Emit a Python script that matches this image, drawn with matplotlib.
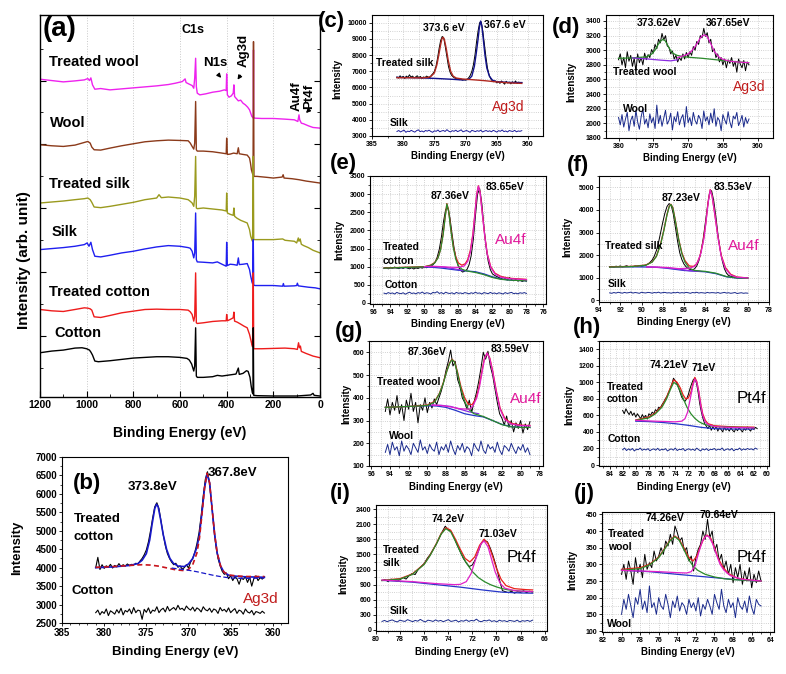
import numpy as np
import matplotlib
matplotlib.use("Agg")
import matplotlib.pyplot as plt
from matplotlib.ticker import MultipleLocator, NullFormatter

plt.rcParams['font.family'] = ['Liberation Sans', 'DejaVu Sans']
plt.rcParams['font.weight'] = 'bold'

W, H = 786, 674

# ---------------- (a) survey spectra: (binding energy, intensity arb.) ----------------
A_TREATED_WOOL = [(1200, 95.2), (1150, 94.8), (1100, 94.4), (1050, 94.7), (1010, 95.0), (995, 95.4), (988, 94.8),
    (982, 95.6), (975, 93.5), (965, 92.2), (940, 92.4), (900, 92.0), (850, 92.3), (800, 92.6), (750, 92.9),
    (700, 93.2), (650, 93.6), (620, 94.0), (590, 94.5), (578, 95.3), (574, 94.2), (560, 93.7), (548, 93.3),
    (541, 92.5), (537, 95.5), (533, 101.5), (530, 93.0), (526, 91.0), (515, 90.5), (490, 90.8), (460, 91.3),
    (430, 91.6), (410, 92.0), (402, 91.8), (400, 96.8), (397, 90.5), (390, 89.8), (380, 90.2), (372, 91.0),
    (369, 93.5), (366, 90.0), (360, 89.5), (350, 88.7), (340, 88.9), (330, 88.0), (320, 87.5), (310, 86.8),
    (302, 86.0), (297, 85.0), (292, 84.0), (289, 83.8), (286, 83.5), (285, 104.0), (284, 83.5), (280, 83.5),
    (250, 83.4), (200, 83.4), (150, 83.2), (110, 83.0), (95, 82.5), (90, 84.5), (87, 83.0), (80, 82.0),
    (70, 81.8), (50, 81.2), (30, 80.7), (0, 80.5)]
A_WOOL = [(1200, 75.5), (1150, 75.2), (1100, 75.0), (1050, 75.4), (1010, 76.2), (995, 76.5), (985, 76.0),
    (978, 74.8), (968, 74.0), (940, 73.9), (900, 74.5), (850, 75.2), (800, 75.8), (750, 76.4), (700, 76.7),
    (650, 76.9), (600, 76.8), (565, 76.7), (556, 76.0), (548, 75.0), (541, 74.2), (537, 76.0), (533, 88.5),
    (530, 74.0), (526, 73.6), (500, 73.6), (460, 73.4), (420, 73.0), (402, 72.8), (400, 77.5), (397, 72.6),
    (385, 72.7), (370, 73.0), (355, 72.8), (350, 74.6), (346, 72.8), (330, 72.6), (312, 72.4), (302, 71.5),
    (298, 70.0), (294, 68.0), (290, 67.0), (287, 66.5), (285, 106.5), (283, 66.0), (270, 66.0), (226, 65.7),
    (200, 65.5), (162, 65.8), (158, 66.5), (154, 65.5), (120, 65.3), (90, 65.0), (60, 64.6), (30, 64.3), (0, 64.0)]
A_TREATED_SILK = [(1200, 58.0), (1150, 58.3), (1100, 58.6), (1050, 59.0), (1010, 59.3), (995, 59.5), (985, 59.0),
    (978, 58.2), (968, 56.8), (940, 56.6), (900, 57.0), (850, 57.6), (800, 58.2), (750, 59.0), (700, 59.5),
    (690, 60.5), (680, 59.6), (650, 59.8), (600, 59.5), (565, 59.0), (556, 58.5), (548, 58.0), (541, 57.0),
    (537, 60.0), (533, 72.0), (530, 56.5), (526, 56.3), (500, 56.5), (460, 56.2), (420, 55.9), (402, 55.6),
    (400, 61.0), (397, 55.0), (385, 54.6), (372, 54.3), (369, 56.5), (366, 54.0), (355, 53.4), (340, 52.8),
    (326, 52.4), (312, 52.0), (302, 50.0), (297, 48.0), (292, 47.0), (289, 46.5), (286, 72.0), (284, 47.0),
    (278, 47.0), (250, 47.0), (200, 47.0), (160, 47.2), (150, 46.8), (110, 46.5), (100, 46.0), (93, 47.5),
    (90, 46.5), (85, 47.2), (80, 45.6), (70, 45.2), (50, 44.6), (30, 43.8), (0, 43.0)]
A_SILK = [(1200, 44.0), (1150, 44.3), (1100, 44.6), (1050, 45.0), (1010, 45.5), (998, 46.0), (990, 45.0),
    (982, 46.2), (975, 44.0), (965, 42.0), (940, 41.8), (900, 42.3), (850, 43.0), (800, 43.5), (750, 44.2),
    (700, 44.8), (650, 45.2), (600, 45.0), (565, 44.6), (556, 44.4), (548, 43.5), (541, 41.5), (537, 43.0),
    (533, 55.0), (530, 41.0), (526, 40.3), (500, 40.2), (460, 40.0), (440, 40.3), (420, 39.6), (402, 39.0),
    (400, 46.2), (397, 39.2), (385, 39.6), (370, 39.5), (355, 39.3), (350, 41.5), (346, 39.5), (330, 39.6),
    (312, 39.8), (302, 38.0), (297, 36.0), (292, 34.5), (289, 33.8), (286, 47.0), (284, 33.3), (278, 33.2),
    (250, 33.2), (200, 33.2), (160, 33.0), (157, 33.8), (154, 33.0), (110, 33.1), (100, 33.2), (97, 33.9),
    (93, 33.1), (50, 32.7), (20, 32.5), (0, 32.2)]
A_TREATED_COTTON = [(1200, 26.0), (1150, 25.6), (1100, 25.4), (1050, 26.0), (1010, 26.5), (995, 26.4),
    (985, 26.2), (978, 25.8), (968, 23.8), (940, 23.6), (900, 24.2), (850, 25.0), (800, 25.5), (750, 26.0),
    (700, 26.1), (650, 26.0), (600, 26.0), (565, 25.8), (556, 25.3), (548, 24.5), (541, 22.5), (537, 24.0),
    (533, 37.0), (530, 22.0), (526, 21.8), (500, 22.0), (460, 22.4), (420, 22.6), (402, 22.6), (400, 24.5),
    (397, 22.6), (385, 23.0), (372, 23.5), (369, 25.2), (366, 22.5), (355, 22.2), (340, 21.6), (326, 21.0),
    (312, 20.5), (302, 18.5), (297, 17.0), (292, 15.5), (289, 14.8), (286, 37.0), (284, 14.2), (278, 14.2),
    (250, 14.2), (200, 14.3), (150, 14.4), (110, 14.2), (97, 14.0), (92, 16.0), (88, 14.5), (84, 15.0),
    (80, 13.4), (60, 12.8), (30, 12.0), (0, 11.5)]
A_COTTON = [(1200, 13.0), (1150, 13.5), (1100, 13.8), (1050, 14.4), (1020, 14.5), (1000, 14.2), (988, 13.8),
    (982, 13.2), (975, 12.3), (965, 10.5), (950, 10.3), (900, 10.6), (850, 11.0), (800, 11.4), (750, 11.6),
    (700, 11.8), (650, 11.8), (600, 11.6), (570, 11.3), (560, 10.8), (550, 9.6), (541, 7.5), (537, 9.0),
    (533, 20.5), (530, 6.0), (526, 5.6), (500, 5.6), (460, 5.8), (440, 6.2), (420, 6.0), (400, 6.2),
    (380, 6.4), (360, 6.6), (350, 8.4), (346, 6.5), (330, 6.8), (315, 7.6), (308, 7.4), (300, 5.6),
    (295, 3.0), (290, 1.0), (287, 0.6), (286, 20.5), (284, 0.2), (270, 0.1), (200, 0.0), (100, 0.0),
    (40, 0.3), (30, 0.8), (25, 0.2), (0, 0.0)]
A_NAMES = ["Treated wool", "Wool", "Treated silk", "Silk", "Treated cotton", "Cotton"]

# ---------------- (b) Ag3d, treated cotton ----------------
B_RANGE = (381, 361)
B_TREATED = [4000, 4280, 3950, 4080, 3980, 4050, 4010, 4090, 3990, 4060, 4020, 4110, 4030, 4080, 4040, 4100,
    4060, 4090, 4070, 4120, 4100, 4180, 4250, 4350, 4480, 4700, 5000, 5350, 5650, 5760, 5600, 5250, 4900,
    4600, 4380, 4250, 4150, 4080, 4120, 4010, 4050, 3960, 4000, 4080, 3990, 4150, 4250, 4420, 4650, 4950,
    5400, 5950, 6400, 6600, 6300, 5700, 5100, 4600, 4250, 4050, 3900, 3820, 3850, 3700, 3780, 3650, 3760,
    3700, 3550, 3720, 3680, 3760, 3600, 3740, 3500, 3700, 3780, 3650, 3730, 3690, 3750]
B_COTTON = [2780, 2850, 2720, 2810, 2760, 2880, 2700, 2830, 2790, 2740, 2860, 2770, 2900, 2720, 2840, 2800,
    2880, 2750, 2920, 2780, 2850, 2830, 2600, 2870, 2790, 2910, 2760, 2850, 2820, 2940, 2780, 2860, 2900,
    2800, 2950, 2830, 2880, 2920, 2850, 2980, 2870, 2900, 2840, 2960, 2890, 2850, 2930, 2820, 2910, 2870,
    2800, 2940, 2860, 2830, 2900, 2790, 2880, 2850, 2760, 2920, 2830, 2870, 2800, 2910, 2780, 2840, 2890,
    2760, 2850, 2820, 2740, 2880, 2800, 2770, 2840, 2720, 2810, 2790, 2760, 2820, 2770]
B_ENVELOPE = [(381, 4000), (379, 4020), (377, 4060), (376, 4110), (375.5, 4200), (375, 4380), (374.6, 4750),
    (374.3, 5200), (374, 5600), (373.8, 5720), (373.6, 5650), (373.3, 5300), (373, 4900), (372.6, 4500),
    (372.2, 4250), (371.8, 4120), (371.2, 4040), (370.5, 4030), (370, 4100), (369.5, 4250), (369, 4550),
    (368.7, 4900), (368.4, 5500), (368.1, 6150), (367.8, 6550), (367.5, 6300), (367.2, 5600), (366.9, 4900),
    (366.6, 4400), (366.2, 4050), (365.8, 3880), (365.2, 3790), (364, 3760), (363, 3750), (361, 3740)]
B_RED_DASH = [(381, 4010), (379, 4030), (377, 4060), (375.5, 4080), (374.5, 4070), (373.5, 4040), (372.5, 3990),
    (371.5, 3940), (370.5, 3920), (370, 3950), (369.5, 4080), (369, 4400), (368.7, 4800), (368.4, 5450),
    (368.1, 6150), (367.8, 6560), (367.5, 6300), (367.2, 5600), (366.9, 4900), (366.6, 4400), (366.2, 4050),
    (365.8, 3880), (365.2, 3800), (364, 3770), (363, 3760), (361, 3760)]
B_BLUE_DASH = [(372, 3990), (371, 3960), (370, 3930), (369, 3890), (368, 3840), (367, 3790), (366, 3750),
    (365, 3720), (364, 3710), (363, 3710), (361, 3720)]

# ---------------- (c) Ag3d, treated silk ----------------
C_RANGE = (381, 361)
C_TREATED = [6650, 6580, 6720, 6600, 6690, 6550, 6700, 6620, 6780, 6640, 6700, 6590, 6650, 6720, 6600, 6680,
    6560, 6650, 6610, 6700, 6640, 6600, 6750, 6850, 7000, 7300, 7800, 8400, 8900, 9150, 9050, 8500, 7900,
    7300, 6950, 6750, 6650, 6580, 6550, 6500, 6480, 6520, 6450, 6480, 6450, 6500, 6600, 6750, 7000, 7400,
    8000, 8800, 9500, 10000, 10050, 9500, 8700, 7900, 7200, 6800, 6550, 6420, 6350, 6400, 6280, 6360, 6250,
    6400, 6300, 6200, 6380, 6270, 6330, 6220, 6350, 6260, 6400, 6240, 6330, 6280, 6300]
C_SILK = [3280, 3340, 3250, 3310, 3360, 3230, 3300, 3270, 3350, 3290, 3240, 3330, 3380, 3270, 3310, 3250, 3340,
    3300, 3360, 3280, 3230, 3320, 3290, 3370, 3260, 3310, 3340, 3280, 3390, 3300, 3250, 3330, 3290, 3360,
    3270, 3320, 3380, 3260, 3300, 3340, 3290, 3230, 3350, 3310, 3270, 3330, 3290, 3360, 3250, 3300, 3340,
    3280, 3320, 3260, 3350, 3300, 3240, 3330, 3290, 3370, 3270, 3310, 3250, 3340, 3300, 3280, 3350, 3260,
    3310, 3290, 3330]
C_RED = [(381, 6600), (379, 6600), (377, 6590), (376, 6620), (375.5, 6700), (375, 6900), (374.6, 7400),
    (374.3, 8000), (374, 8650), (373.8, 9000), (373.6, 9100), (373.4, 8950), (373.1, 8400), (372.8, 7700),
    (372.4, 7000), (372, 6700), (371.5, 6580), (370.5, 6520), (369, 6480), (367, 6420), (365, 6340),
    (363, 6280), (361, 6250)]
C_BLUE = [(381, 6620), (378, 6600), (375, 6560), (372, 6500), (370.5, 6460), (369.5, 6500), (369, 6700),
    (368.6, 7300), (368.3, 8100), (368, 9000), (367.8, 9700), (367.6, 10100), (367.4, 9800), (367.2, 9100),
    (366.9, 8000), (366.6, 7200), (366.2, 6700), (365.7, 6450), (365, 6350), (363, 6310), (361, 6300)]

# ---------------- (d) Ag3d, treated wool ----------------
D_RANGE = (380, 361.25)
D_TREATED = [2870, 2950, 2800, 2900, 2760, 2980, 2850, 2930, 2780, 2890, 2720, 2950, 2830, 2900, 2800, 2960,
    2870, 2940, 2900, 3010, 2960, 3080, 3020, 3150, 3100, 3230, 3140, 3200, 3060, 3040, 2950, 2990, 2880,
    2930, 2840, 2900, 2860, 2950, 2880, 2970, 2900, 2980, 2930, 3050, 3000, 3120, 3080, 3200, 3170, 3300,
    3190, 3240, 3100, 3150, 2980, 3020, 2900, 2950, 2840, 2900, 2800, 2880, 2760, 2870, 2820, 2900, 2780,
    2850, 2700, 2880, 2810, 2760, 2860, 2720, 2840, 2800]
D_WOOL = [2080, 1980, 2120, 1950, 2060, 2150, 1900, 2040, 2100, 1960, 2180, 2020, 1920, 2090, 2200, 1990, 2060,
    1940, 2130, 2010, 2080, 1930, 2250, 2000, 2110, 1960, 2070, 2180, 1990, 2040, 2140, 1910, 2090, 2020,
    2160, 1980, 2070, 2120, 1950, 2230, 2010, 2080, 1970, 2150, 2040, 1990, 2110, 2060, 1930, 2170, 2030,
    2090, 1980, 2140, 2010, 2200, 1960, 2080, 2040, 1900, 2120, 2050, 1990, 2160, 2020, 1940, 2100, 2060,
    2150, 1970, 2030, 2110, 1950, 2080, 2000, 2060]
D_GREEN = [(380, 2890), (378, 2895), (376, 2910), (375.2, 2950), (374.7, 3010), (374.3, 3080), (374, 3120),
    (373.62, 3150), (373.3, 3130), (373, 3080), (372.6, 3010), (372.2, 2960), (371.6, 2930), (370.8, 2915),
    (370, 2905), (368, 2890), (366, 2870), (364, 2850), (362, 2835), (361.3, 2830)]
D_VIOLET = [(378, 2895), (376, 2882), (374, 2865), (372.5, 2855), (371.5, 2870)]
D_MAGENTA = [(371.5, 2900), (370.5, 2930), (370, 2950), (369.5, 2990), (369, 3050), (368.6, 3110), (368.3, 3160),
    (368, 3195), (367.65, 3210), (367.3, 3190), (367, 3140), (366.6, 3060), (366.2, 2980), (365.6, 2910),
    (365, 2875), (364, 2850), (363, 2840), (361.3, 2830)]

# ---------------- (e) Au4f, treated cotton ----------------
E_RANGE = (94.75, 78)
E_TREATED = [950, 980, 940, 970, 955, 990, 960, 945, 975, 950, 985, 960, 940, 970, 935, 965, 950, 975, 960, 985,
    970, 1000, 1010, 1050, 1120, 1260, 1480, 1820, 2250, 2580, 2620, 2350, 1900, 1500, 1200, 1000, 900, 850,
    880, 920, 1050, 1300, 1750, 2400, 3000, 3150, 2750, 2100, 1550, 1150, 920, 800, 760, 730, 700, 680, 650,
    670, 630, 700, 640, 610, 650, 600, 630, 590, 620, 600]
E_COTTON = [270, 250, 285, 260, 275, 245, 290, 265, 255, 280, 240, 270, 295, 260, 275, 250, 285, 265, 300, 255,
    280, 270, 245, 290, 275, 310, 260, 285, 250, 295, 270, 260, 280, 245, 290, 265, 275, 255, 285, 270, 250,
    280, 260, 295, 265, 275, 245, 285, 270, 255, 290, 260, 275, 250, 280, 265, 245, 285, 260, 275, 290, 255,
    270, 250, 280, 265, 285, 260]
E_RED = [(94.75, 965), (92, 985), (90, 1000), (89.3, 1040), (88.8, 1110), (88.4, 1250), (88.1, 1480), (87.8, 1900),
    (87.55, 2400), (87.36, 2740), (87.15, 2550), (86.9, 2050), (86.6, 1560), (86.3, 1260), (86, 1100),
    (85.6, 1040), (85.2, 1080), (84.9, 1200), (84.6, 1450), (84.3, 1900), (84.05, 2500), (83.85, 3000),
    (83.65, 3230), (83.45, 3050), (83.2, 2500), (82.9, 1850), (82.6, 1350), (82.2, 1000), (81.7, 820),
    (81, 730), (80, 680), (78, 650)]
E_GREEN = [(94.75, 960), (92, 980), (90, 995), (89.3, 1030), (88.8, 1100), (88.4, 1240), (88.1, 1470), (87.8, 1880),
    (87.55, 2380), (87.36, 2730), (87.15, 2530), (86.9, 2020), (86.6, 1520), (86.3, 1200), (86, 1020),
    (85.6, 930), (85, 880), (84, 840), (83, 780), (82, 700), (81, 650), (80, 630), (78, 610)]
E_MAGENTA = [(90, 1000), (89, 1010), (88, 1000), (87, 985), (86, 980), (85.3, 1020), (84.9, 1150), (84.6, 1400),
    (84.3, 1860), (84.05, 2470), (83.85, 2980), (83.65, 3220), (83.45, 3040), (83.2, 2480), (82.9, 1830),
    (82.6, 1330), (82.2, 980), (81.7, 800), (81, 710), (80, 670), (78, 640)]
E_VIOLET = [(89.5, 990), (88.5, 1000), (87.5, 980), (86.5, 940), (85.5, 900)]
E_BLUE = [(94.75, 960), (92, 975), (90, 985), (89, 980), (88, 960), (87, 930), (86, 900), (85, 880), (84, 860),
    (83, 800), (82, 720), (81, 660), (80, 630), (78, 610)]

# ---------------- (f) Au4f, treated silk ----------------
F_RANGE = (93, 80)
F_TREATED = [1480, 1500, 1470, 1510, 1490, 1520, 1480, 1500, 1530, 1490, 1510, 1480, 1520, 1500, 1540, 1510,
    1530, 1560, 1600, 1680, 1780, 1950, 2200, 2550, 3000, 3450, 3850, 4150, 4280, 4200, 3800, 3200, 2600,
    2100, 1800, 1600, 1480, 1400, 1360, 1340, 1400, 1520, 1750, 2150, 2700, 3400, 4100, 4750, 4850, 4400,
    3700, 2900, 2250, 1750, 1400, 1200, 1100, 1060, 1040, 1020, 1010, 1000, 990, 1000, 985, 995]
F_SILK = [330, 310, 345, 320, 355, 335, 315, 350, 325, 340, 360, 320, 345, 330, 310, 355, 335, 325, 350, 340, 315,
    345, 330, 360, 320, 340, 350, 325, 335, 315, 345, 330, 355, 320, 340, 325, 350, 335, 310, 345, 330, 355,
    320, 340, 330, 315, 350, 325, 340, 335, 320, 345, 310, 330, 350, 320, 335, 310, 325, 345, 300, 320, 335,
    310, 325, 315]
F_RED = [(93, 1480), (91, 1500), (89.6, 1560), (89, 1700), (88.6, 1950), (88.2, 2500), (87.9, 3100), (87.6, 3800),
    (87.4, 4150), (87.23, 4250), (87.05, 4100), (86.8, 3500), (86.5, 2700), (86.2, 2100), (85.9, 1750),
    (85.5, 1520), (85.1, 1500), (84.8, 1620), (84.5, 1950), (84.2, 2600), (83.95, 3400), (83.75, 4300),
    (83.53, 4900), (83.35, 4600), (83.1, 3800), (82.8, 2800), (82.5, 2000), (82.1, 1450), (81.6, 1150),
    (81, 1030), (80, 990)]
F_GREEN = [(93, 1470), (91, 1490), (89.6, 1550), (89, 1690), (88.6, 1940), (88.2, 2480), (87.9, 3080),
    (87.6, 3780), (87.4, 4130), (87.23, 4240), (87.05, 4080), (86.8, 3480), (86.5, 2680), (86.2, 2060),
    (85.9, 1680), (85.5, 1420), (85, 1320), (84, 1280), (83, 1200), (82, 1050), (81, 990), (80, 980)]
F_MAGENTA = [(89.5, 1480), (88.5, 1470), (87.5, 1450), (86.5, 1400), (85.5, 1420), (85, 1500), (84.7, 1700),
    (84.4, 2100), (84.1, 2800), (83.9, 3600), (83.7, 4400), (83.53, 4880), (83.35, 4600), (83.1, 3800),
    (82.8, 2780), (82.5, 1950), (82.1, 1400), (81.6, 1120), (81, 1020), (80, 990)]
F_VIOLET = [(89.5, 1470), (88.5, 1460), (87.5, 1430), (86.5, 1380), (85.5, 1310), (84.5, 1280)]
F_BLUE = [(93, 1470), (91, 1480), (89, 1470), (88, 1440), (87, 1380), (86, 1320), (85, 1290), (84, 1260),
    (83, 1180), (82, 1040), (81, 980), (80, 970)]

# ---------------- (g) Au4f, treated wool ----------------
G_RANGE = (94.5, 79)
G_TREATED = [340, 395, 325, 380, 345, 410, 330, 370, 300, 390, 350, 420, 340, 380, 290, 370, 345, 400, 335, 380,
    355, 395, 370, 400, 430, 470, 520, 560, 610, 540, 560, 480, 450, 400, 380, 350, 390, 335, 380, 420, 470,
    530, 600, 570, 605, 540, 500, 440, 380, 330, 310, 280, 320, 270, 300, 250, 290, 265, 300, 245, 285, 260, 295]
G_WOOL = [160, 195, 150, 205, 170, 185, 145, 210, 165, 190, 175, 150, 200, 180, 160, 215, 170, 185, 155, 195, 175,
    165, 205, 150, 185, 170, 195, 160, 210, 175, 150, 190, 170, 200, 160, 185, 175, 145, 200, 180, 165, 210,
    170, 155, 195, 175, 185, 160, 205, 170, 150, 190, 180, 165, 200, 175, 155, 185, 170, 195, 160, 180, 150]
G_RED = [(94.5, 358), (92, 362), (90, 368), (89.2, 385), (88.7, 420), (88.3, 465), (87.9, 520), (87.6, 555),
    (87.36, 570), (87.1, 560), (86.8, 520), (86.4, 450), (86, 400), (85.6, 372), (85.2, 370), (84.8, 395),
    (84.5, 440), (84.2, 505), (83.9, 570), (83.59, 597), (83.3, 575), (83, 520), (82.6, 430), (82.2, 355),
    (81.7, 310), (81, 288), (80, 280), (79, 278)]
G_GREEN = [(94.5, 358), (92, 362), (90, 366), (89.2, 382), (88.7, 418), (88.3, 462), (87.9, 518), (87.6, 552),
    (87.36, 568), (87.1, 558), (86.8, 515), (86.4, 440), (86, 385), (85.6, 350), (85, 330), (84, 318),
    (83, 300), (82, 282), (81, 272), (80, 270), (79, 270)]
G_MAGENTA = [(89.5, 368), (88.5, 366), (87.5, 360), (86.5, 352), (85.5, 350), (85.1, 365), (84.7, 400),
    (84.4, 450), (84.1, 520), (83.85, 575), (83.59, 597), (83.3, 572), (83, 515), (82.6, 425), (82.2, 350),
    (81.7, 305), (81, 285), (80, 278), (79, 277)]
G_VIOLET = [(89.5, 368), (88.5, 367), (87.5, 362), (86.5, 350), (85.5, 338), (84.5, 330)]
G_BLUE = [(94.5, 358), (92, 362), (90, 365), (89, 364), (88, 358), (87, 345), (86, 330), (85, 322), (84, 316),
    (83, 300), (82, 283), (81, 273), (80, 270), (79, 270)]

# ---------------- (h) Pt4f, treated cotton ----------------
H_RANGE = (82, 61.5)
H_TREATED = [660, 620, 680, 640, 610, 650, 600, 630, 580, 620, 590, 560, 610, 570, 600, 555, 620, 600, 640, 620,
    670, 650, 700, 690, 730, 760, 800, 830, 880, 920, 980, 1050, 1020, 990, 940, 880, 820, 790, 770, 800, 850,
    920, 980, 1030, 1050, 990, 880, 740, 640, 560, 500, 470, 440, 480, 420, 460, 430, 470, 410, 450, 430, 400,
    460, 420, 440, 410, 450, 420, 400, 440, 415, 450, 425, 400, 440, 420, 460, 430, 410, 450, 430, 455, 440]
H_COTTON = [185, 205, 175, 195, 180, 200, 170, 190, 185, 205, 178, 192, 182, 198, 172, 188, 195, 180, 202, 176,
    190, 184, 198, 170, 186, 195, 180, 205, 175, 190, 185, 200, 172, 188, 196, 180, 192, 176, 204, 185, 170,
    195, 182, 198, 175, 190, 186, 200, 178, 192, 184, 206, 175, 188, 196, 180, 200, 172, 190, 185, 205, 178,
    195, 184, 200, 188, 196, 182, 205, 192]
H_GREEN = [(80, 540), (78, 570), (77, 620), (76, 700), (75.3, 800), (74.8, 900), (74.21, 1000), (73.7, 970),
    (73.2, 890), (72.7, 790), (72.2, 700), (71.6, 620), (71, 565), (70.4, 525), (69.8, 500), (69, 480),
    (68, 465), (66, 458), (64, 455), (62, 452)]
H_MAGENTA = [(80, 540), (77, 530), (75, 525), (74, 522), (73, 530), (72.5, 560), (72.1, 640), (71.7, 800),
    (71.3, 960), (71, 1040), (70.7, 1000), (70.4, 880), (70.1, 720), (69.8, 600), (69.4, 520), (69, 490),
    (68, 465), (66, 455), (62, 450)]
H_RED = [(80, 545), (78, 580), (77, 630), (76, 715), (75.3, 820), (74.8, 920), (74.21, 1030), (73.7, 1000),
    (73.2, 930), (72.8, 850), (72.4, 800), (72, 810), (71.6, 880), (71.3, 980), (71, 1060), (70.7, 1010),
    (70.4, 890), (70.1, 740), (69.8, 620), (69.4, 540), (69, 500), (68, 475), (66, 465), (64, 460), (62, 458)]
H_BLUE = [(80, 530), (78, 525), (76, 515), (74, 500), (72, 480), (70, 455), (68, 440), (66, 435), (64, 435),
    (62, 435)]

# ---------------- (i) Pt4f, treated silk ----------------
I_RANGE = (79.5, 67)
I_TREATED = [980, 1000, 960, 1010, 990, 970, 1000, 1040, 1010, 1080, 1120, 1100, 1200, 1260, 1320, 1420, 1500,
    1600, 1700, 1820, 1950, 2060, 1990, 1950, 1820, 1680, 1550, 1420, 1330, 1260, 1290, 1400, 1560, 1720,
    1780, 1750, 1620, 1450, 1250, 1000, 780, 760, 740, 770, 730, 760, 745, 780, 740, 770, 750]
I_SILK = [170, 190, 165, 185, 200, 175, 160, 195, 180, 170, 205, 185, 165, 190, 175, 210, 180, 160, 195, 185, 170,
    200, 175, 190, 165, 185, 205, 170, 180, 195, 160, 185, 175, 200, 170, 190, 180, 215, 175, 165, 190, 180,
    200, 170, 185, 160, 195, 175, 185, 165, 190, 180, 170, 195, 160, 185, 175, 190, 170, 195]
I_GREEN = [(79.5, 980), (78, 1010), (77, 1100), (76, 1300), (75.5, 1480), (75, 1700), (74.6, 1900), (74.2, 2010),
    (73.8, 1950), (73.4, 1760), (73, 1550), (72.5, 1330), (72, 1160), (71.5, 1040), (71, 960), (70.5, 900),
    (70, 855), (69.5, 820), (69, 795), (68, 770), (67, 760)]
I_RED = [(79.5, 985), (78, 1020), (77, 1110), (76, 1310), (75.5, 1490), (75, 1710), (74.6, 1910), (74.2, 2030),
    (73.8, 1980), (73.4, 1800), (73, 1600), (72.6, 1420), (72.2, 1350), (71.8, 1450), (71.4, 1680),
    (71.03, 1800), (70.7, 1720), (70.3, 1450), (70, 1220), (69.6, 1000), (69.2, 880), (68.5, 820),
    (67.5, 800), (67, 795)]
I_MAGENTA = [(79.5, 990), (77, 960), (75, 920), (73.5, 900), (73, 905), (72.5, 960), (72.1, 1120), (71.7, 1420),
    (71.3, 1700), (71.03, 1770), (70.7, 1650), (70.4, 1400), (70.1, 1150), (69.7, 930), (69.3, 830),
    (68.5, 780), (67.5, 765), (67, 760)]
I_BLUE = [(79.5, 985), (77, 950), (75, 900), (73, 850), (71, 790), (69.5, 750), (68, 735), (67, 730)]

# ---------------- (j) Pt4f, treated wool ----------------
J_RANGE = (80, 65)
J_TREATED = [270, 300, 255, 310, 280, 240, 320, 275, 300, 260, 330, 285, 305, 290, 340, 310, 325, 350, 330, 370,
    355, 390, 360, 415, 395, 370, 380, 340, 350, 310, 325, 280, 320, 345, 360, 400, 375, 435, 380, 400, 340,
    360, 310, 330, 285, 310, 270, 300, 245, 290, 260, 300, 240, 280, 250, 290, 230, 270, 245, 280, 250]
J_WOOL = [150, 195, 165, 210, 175, 140, 200, 180, 225, 165, 190, 155, 235, 170, 185, 150, 200, 175, 165, 210, 180,
    140, 190, 170, 205, 160, 185, 175, 150, 195, 170, 185, 160, 200, 145, 180, 165, 195, 175, 150, 210, 185,
    165, 225, 175, 155, 195, 170, 185, 140, 200, 175, 165, 190, 155, 205, 170, 150, 195, 180, 175]
J_RED = [(80, 285), (78, 290), (77, 300), (76, 322), (75.3, 350), (74.8, 372), (74.26, 385), (73.8, 375),
    (73.3, 350), (72.8, 322), (72.3, 310), (71.9, 325), (71.5, 355), (71.1, 380), (70.8, 388), (70.4, 378),
    (70, 350), (69.6, 318), (69.1, 292), (68.5, 272), (67.5, 258), (66, 252), (65, 250)]
J_GREEN = [(80, 282), (78, 287), (77, 298), (76, 320), (75.3, 348), (74.8, 370), (74.26, 383), (73.8, 372),
    (73.3, 345), (72.8, 315), (72.3, 295), (71.8, 282), (71, 270), (70, 262), (69, 257), (68, 254), (66, 251),
    (65, 250)]
J_MAGENTA = [(80, 282), (78, 280), (76, 278), (74, 275), (73, 274), (72.5, 278), (72.1, 295), (71.7, 335),
    (71.3, 370), (70.9, 386), (70.6, 383), (70.2, 362), (69.8, 330), (69.4, 300), (69, 283), (68.3, 266),
    (67, 255), (65, 250)]
J_BLUE = [(80, 282), (77, 278), (74, 270), (72, 265), (70, 260), (68, 255), (66, 251), (65, 250)]

# ---------------- colours ----------------
COL_A = ['#ee22ee', '#8b3a1a', '#9a9a1e', '#1f1ff0', '#ee1c1c', '#000000']
RAW = '#000000'
REF = '#1a2a8c'
FRED = '#e8201c'
FGREEN = '#2a8a2a'
FMAG = '#e020c8'
FVIO = '#8a2be2'
FBLUE = '#2535c8'
AU_COL = '#e0189a'
AG_COL = '#c01c1c'

fig = plt.figure(figsize=(W / 100, H / 100), dpi=100)
fig.patch.set_facecolor('white')


def rect(box):
    l, t, r, b = box
    return [l / W, 1 - b / H, (r - l) / W, (b - t) / H]


def ftext(x, y, s, size=7.5, weight='bold', color='black', ha='left', rot=0):
    fig.text(x / W, 1 - y / H, s, fontsize=size, fontweight=weight, color=color,
             ha=ha, va='center', rotation=rot)


def unzip(pairs):
    return [p[0] for p in pairs], [p[1] for p in pairs]


def place_labels(ax, box, xlab_y, ylab_x, ylab_y, size):
    l, t, r, b = box
    ax.set_xlabel('Binding Energy (eV)', fontsize=size, fontweight='bold', va='center')
    ax.set_ylabel('Intensity' if size < 9.5 or ax is not None else '', fontsize=size, fontweight='bold', va='center')
    ax.xaxis.set_label_coords(0.5, (b - xlab_y) / (b - t))
    ax.yaxis.set_label_coords((ylab_x - l) / (r - l), (b - ylab_y) / (b - t))


def small_axes(box, xlim, ylim, xmaj, ymaj, xlab_y, ylab_x, ylab_y, grid=True, tsize=5, lsize=7):
    ax = fig.add_axes(rect(box))
    ax.set_xlim(*xlim)
    ax.set_ylim(*ylim)
    ax.xaxis.set_major_locator(MultipleLocator(xmaj))
    ax.xaxis.set_minor_locator(MultipleLocator(xmaj / 2))
    ax.yaxis.set_major_locator(MultipleLocator(ymaj))
    ax.yaxis.set_minor_locator(MultipleLocator(ymaj / 2))
    if grid:
        ax.grid(True, which='both', color='#c4c4c4', linestyle=':', linewidth=0.6)
        ax.set_axisbelow(True)
    ax.tick_params(which='major', direction='out', length=2.5, width=0.6, labelsize=tsize, pad=1)
    ax.tick_params(which='minor', direction='out', length=1.5, width=0.5)
    for lab in ax.get_xticklabels() + ax.get_yticklabels():
        lab.set_fontweight('bold')
    for sp in ax.spines.values():
        sp.set_linewidth(0.8)
    place_labels(ax, box, xlab_y, ylab_x, ylab_y, lsize)
    return ax


def raw(ax, rng, vals, color, lw=0.7):
    x = np.linspace(rng[0], rng[1], len(vals))
    ax.plot(x, vals, color=color, lw=lw)


def fit(ax, pairs, color, lw=0.9, ls='-'):
    x, y = unzip(pairs)
    ax.plot(x, y, color=color, lw=lw, ls=ls)


# ---------------- panel (a) ----------------
BOX_A = (40, 15, 320, 397)
axa = fig.add_axes(rect(BOX_A))
for data, col in zip([A_TREATED_WOOL, A_WOOL, A_TREATED_SILK, A_SILK, A_TREATED_COTTON, A_COTTON], COL_A):
    x, y = unzip(data)
    axa.plot(x, y, color=col, lw=1.0)
axa.set_xlim(1200, 0)
axa.set_ylim(-0.3, 114.5)
axa.xaxis.set_major_locator(MultipleLocator(200))
axa.xaxis.set_minor_locator(MultipleLocator(100))
axa.set_yticks(np.arange(18, 114, 19.2))
axa.set_yticks(np.arange(8.4, 114, 9.6), minor=True)
axa.yaxis.set_major_formatter(NullFormatter())
axa.grid(True, axis='x', which='major', color='#c8c8c8', linestyle=':', linewidth=0.7)
axa.tick_params(which='major', direction='in', length=4, width=0.8, labelsize=7.5, right=True, pad=2)
axa.tick_params(which='minor', direction='in', length=2, width=0.6, right=True)
for lab in axa.get_xticklabels():
    lab.set_fontweight('bold')
for sp in axa.spines.values():
    sp.set_linewidth(1.0)
axa.set_xlabel('Binding Energy (eV)', fontsize=10, fontweight='bold', va='center')
axa.set_ylabel('Intensity (arb. unit)', fontsize=11, fontweight='bold', va='center')
axa.xaxis.set_label_coords(0.5, (397 - 433) / (397 - 15))
axa.yaxis.set_label_coords((24 - 40) / 280, (397 - 260) / (397 - 15))

ftext(43, 29, '(a)', size=20)
ftext(182, 30, 'C1s', size=9)
ftext(203, 63, 'N1s', size=9.5)
ftext(244, 50, 'Ag3d', size=9.5, ha='center', rot=90)
ftext(297, 96, 'Au4f', size=9.5, ha='center', rot=90)
ftext(309, 96, 'Pt4f', size=9.5, ha='center', rot=90)
for name, (lx, ly) in zip(A_NAMES, [(49, 62), (50, 123), (49, 184), (52, 232), (49, 292), (54, 333)]):
    ftext(lx, ly, name, size=10.5)
for (x0, y0, x1, y1) in [(217, 73, 223, 80), (242, 73, 236, 82), (310, 109, 304, 115)]:
    fig.patches.append(matplotlib.patches.FancyArrowPatch(
        (x0 / W, 1 - y0 / H), (x1 / W, 1 - y1 / H), transform=fig.transFigure,
        arrowstyle='-|>', mutation_scale=6, lw=0.9, color='black'))

# ---------------- panel (b) ----------------
BOX_B = (62, 457, 288, 623)
axb = small_axes(BOX_B, (385, 358.2), (2500, 7000), 5, 500, 652, 17, 548, grid=False, tsize=7, lsize=9.5)
axb.xaxis.set_minor_locator(MultipleLocator(1))
axb.yaxis.set_minor_locator(MultipleLocator(250))
raw(axb, B_RANGE, B_COTTON, RAW, lw=0.8)
raw(axb, B_RANGE, B_TREATED, RAW, lw=0.8)
fit(axb, B_ENVELOPE, '#1818c8', lw=1.2)
fit(axb, B_RED_DASH, '#c8141c', lw=1.2, ls=(0, (3, 2)))
fit(axb, B_BLUE_DASH, '#1818c8', lw=0.9, ls=(0, (4, 2)))
ftext(73, 483, '(b)', size=16)
ftext(128, 487, '373.8eV', size=9.5)
ftext(208, 473, '367.8eV', size=9.5)
ftext(74, 519, 'Treated', size=9.5)
ftext(74, 537, 'cotton', size=9.5)
ftext(72, 591, 'Cotton', size=9.5)
ftext(243, 599, 'Ag3d', size=11, weight='normal', color=AG_COL)

# ---------------- panel (c) ----------------
BOX_C = (372, 15, 543, 136)
axc = small_axes(BOX_C, (385, 357.6), (3000, 10475), 5, 1000, 156, 337, 79)
raw(axc, C_RANGE, C_SILK, '#1c1c9c')
raw(axc, C_RANGE, C_TREATED, RAW)
fit(axc, C_BLUE, '#10108c', lw=1.0)
fit(axc, C_RED, '#b02820', lw=1.0)
ftext(318, 22, '(c)', size=16)
ftext(423, 28, '373.6 eV')
ftext(484, 25, '367.6 eV')
ftext(376, 63, 'Treated silk')
ftext(492, 107, 'Ag3d', size=10, weight='normal', color=AG_COL)
ftext(390, 123, 'Silk')

# ---------------- panel (d) ----------------
BOX_D = (606, 15, 773, 138)
axd = small_axes(BOX_D, (381.8, 357.8), (1800, 3482), 5, 200, 158, 571, 82)
raw(axd, D_RANGE, D_WOOL, REF)
raw(axd, D_RANGE, D_TREATED, RAW)
fit(axd, D_GREEN, FGREEN)
fit(axd, D_VIOLET, FVIO)
fit(axd, D_MAGENTA, FMAG)
ftext(552, 27, '(d)', size=16)
ftext(637, 23, '373.62eV')
ftext(706, 23, '367.65eV')
ftext(613, 72, 'Treated wool')
ftext(733, 87, 'Ag3d', size=10, weight='normal', color=AG_COL)
ftext(623, 109, 'Wool')

# ---------------- panel (e) ----------------
BOX_E = (370, 176, 546, 304)
axe = small_axes(BOX_E, (96.4, 75.7), (-30, 3500), 2, 500, 324, 339, 240)
raw(axe, E_RANGE, E_COTTON, REF)
raw(axe, E_RANGE, E_TREATED, RAW)
fit(axe, E_BLUE, FBLUE)
fit(axe, E_VIOLET, FVIO)
fit(axe, E_RED, FRED)
fit(axe, E_GREEN, FGREEN)
fit(axe, E_MAGENTA, FMAG)
ftext(330, 163, '(e)', size=16)
ftext(431, 196, '87.36eV')
ftext(486, 187, '83.65eV')
ftext(383, 247, 'Treated')
ftext(383, 261, 'cotton')
ftext(495, 240, 'Au4f', size=11, weight='normal', color=AU_COL)
ftext(385, 285, 'Cotton')

# ---------------- panel (f) ----------------
BOX_F = (599, 176, 769, 302)
axf = small_axes(BOX_F, (94, 78), (-75, 5500), 2, 1000, 322, 567, 237)
raw(axf, F_RANGE, F_SILK, REF)
raw(axf, F_RANGE, F_TREATED, RAW)
fit(axf, F_BLUE, FBLUE)
fit(axf, F_VIOLET, FVIO)
fit(axf, F_RED, FRED)
fit(axf, F_GREEN, FGREEN)
fit(axf, F_MAGENTA, FMAG)
ftext(567, 166, '(f)', size=16)
ftext(662, 198, '87.23eV')
ftext(714, 187, '83.53eV')
ftext(605, 246, 'Treated silk')
ftext(728, 246, 'Au4f', size=11, weight='normal', color=AU_COL)
ftext(608, 284, 'Silk')

# ---------------- panel (g) ----------------
BOX_G = (369, 341, 543, 466)
axg = small_axes(BOX_G, (96.25, 77.6), (100, 650), 2, 100, 487, 346, 404)
raw(axg, G_RANGE, G_WOOL, REF)
raw(axg, G_RANGE, G_TREATED, RAW)
fit(axg, G_BLUE, FBLUE)
fit(axg, G_VIOLET, FVIO)
fit(axg, G_RED, FRED)
fit(axg, G_GREEN, FGREEN)
fit(axg, G_MAGENTA, FMAG)
ftext(335, 332, '(g)', size=16)
ftext(408, 352, '87.36eV')
ftext(491, 349, '83.59eV')
ftext(377, 382, 'Treated wool')
ftext(510, 399, 'Au4f', size=11, weight='normal', color=AU_COL)
ftext(389, 436, 'Wool')

# ---------------- panel (h) ----------------
BOX_H = (599, 341, 769, 466)
axh = small_axes(BOX_H, (85.6, 59.7), (-12, 1500), 2, 200, 487, 569, 405)
raw(axh, H_RANGE, H_COTTON, REF)
raw(axh, H_RANGE, H_TREATED, RAW)
fit(axh, H_BLUE, FBLUE)
fit(axh, H_RED, FRED)
fit(axh, H_GREEN, FGREEN)
fit(axh, H_MAGENTA, FMAG)
ftext(573, 328, '(h)', size=16)
ftext(649, 365, '74.21eV')
ftext(692, 368, '71eV')
ftext(607, 387, 'Treated')
ftext(607, 399, 'cotton')
ftext(737, 399, 'Pt4f', size=12, weight='normal')
ftext(608, 439, 'Cotton')

# ---------------- panel (i) ----------------
BOX_I = (376, 505, 547, 631)
axi = small_axes(BOX_I, (80, 65.8), (-20, 2480), 2, 300, 652, 343, 574)
raw(axi, I_RANGE, I_SILK, REF)
raw(axi, I_RANGE, I_TREATED, RAW)
fit(axi, I_BLUE, FBLUE)
fit(axi, I_RED, FRED)
fit(axi, I_GREEN, FGREEN)
fit(axi, I_MAGENTA, FMAG)
ftext(330, 493, '(i)', size=16)
ftext(431, 519, '74.2eV')
ftext(478, 534, '71.03eV')
ftext(383, 550, 'Treated')
ftext(383, 563, 'silk')
ftext(507, 557, 'Pt4f', size=12, weight='normal')
ftext(390, 611, 'Silk')

# ---------------- panel (j) ----------------
BOX_J = (602, 512, 774, 632)
axj = small_axes(BOX_J, (82.1, 63.6), (97, 457), 2, 50, 652, 572, 570)
raw(axj, J_RANGE, J_WOOL, REF)
raw(axj, J_RANGE, J_TREATED, RAW)
fit(axj, J_BLUE, FBLUE)
fit(axj, J_RED, FRED)
fit(axj, J_GREEN, FGREEN)
fit(axj, J_MAGENTA, FMAG)
ftext(574, 494, '(j)', size=16)
ftext(646, 518, '74.26eV')
ftext(700, 515, '70.64eV')
ftext(608, 534, 'Treated')
ftext(608, 547, 'wool')
ftext(737, 557, 'Pt4f', size=12, weight='normal')
ftext(607, 624, 'Wool')

fig.savefig('out.png', dpi=100, facecolor='white')
